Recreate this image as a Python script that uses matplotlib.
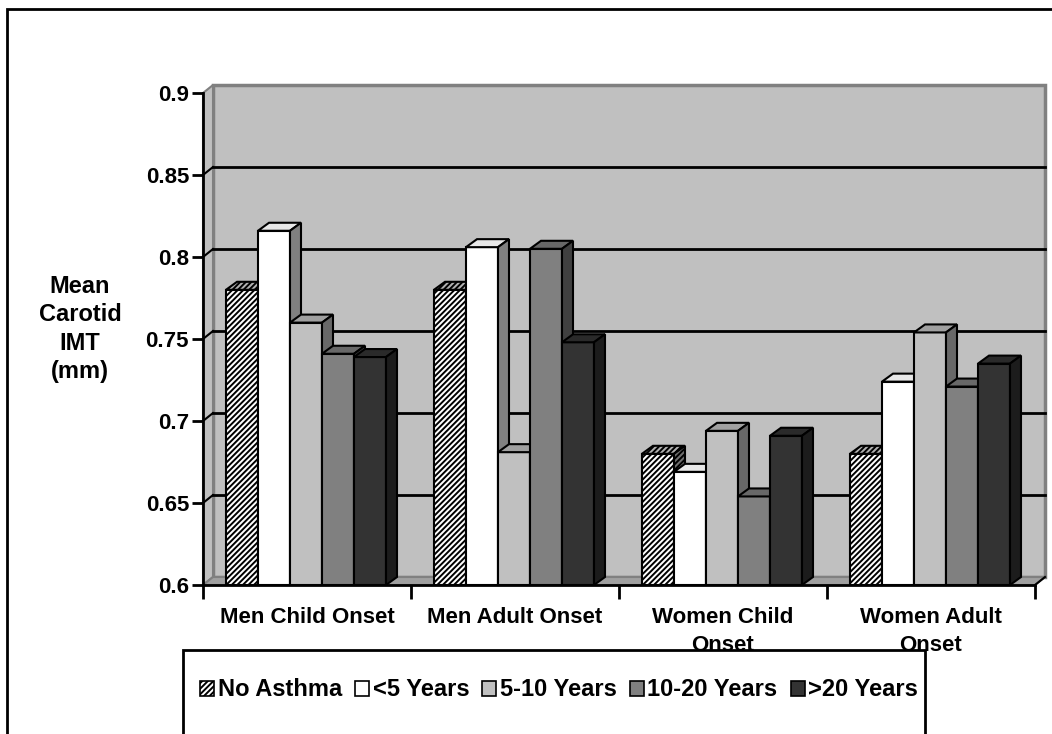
import numpy as np
import matplotlib

matplotlib.use('agg')
import matplotlib.pyplot as plt
from matplotlib.patches import Polygon, Rectangle, Patch

plt.rcParams['font.family'] = ['Liberation Sans', 'DejaVu Sans']
plt.rcParams['hatch.linewidth'] = 1.4

categories = ['Men Child Onset', 'Men Adult Onset', 'Women Child\nOnset', 'Women Adult\nOnset']
series = ['No Asthma', '<5 Years', '5-10 Years', '10-20 Years', '>20 Years']
no_asthma = [0.780, 0.780, 0.680, 0.680]
under_5 = [0.816, 0.806, 0.669, 0.724]
yrs_5_10 = [0.760, 0.681, 0.694, 0.754]
yrs_10_20 = [0.741, 0.805, 0.654, 0.721]
over_20 = [0.739, 0.748, 0.691, 0.735]
yticks = [0.6, 0.65, 0.7, 0.75, 0.8, 0.85, 0.9]
ytick_labels = ['0.6', '0.65', '0.7', '0.75', '0.8', '0.85', '0.9']

values = [no_asthma, under_5, yrs_5_10, yrs_10_20, over_20]
# front, top, side colours and hatch of each series
faces = [('white', '#b0b0b0', '#707070', '//////'),
         ('white', '#e8e8e8', '#808080', None),
         ('#c0c0c0', '#a0a0a0', '#686868', None),
         ('#808080', '#686868', '#404040', None),
         ('#333333', '#2a2a2a', '#1c1c1c', None)]

W, H = 1052, 734
fig = plt.figure(figsize=(W / 100, H / 100), dpi=100)
ax = fig.add_axes([203 / W, 149 / H, 832 / W, 492 / H])
ax.set_xlim(0, 4)
ax.set_ylim(0.6, 0.9)
ax.set_facecolor('none')

# pixel sizes in data units
px_x = 4 / 832
px_y = 0.3 / 492
wall_dx, wall_dy = 10 * px_x, 8 * px_y
bar_dx, bar_dy = 11 * px_x, 8 * px_y
bar_w = 32 * px_x
group_off = 23 * px_x
y0 = yticks[0]
y1 = yticks[-1]

# back wall, side wall and floor
ax.add_patch(Rectangle((wall_dx, y0 + wall_dy), 4, y1 - y0, fc='#c0c0c0', ec='#808080',
                       lw=2.5, zorder=0, clip_on=False))
ax.add_patch(Polygon([(0, y0), (wall_dx, y0 + wall_dy), (wall_dx, y1 + wall_dy), (0, y1)],
                     fc='#c0c0c0', ec='#808080', lw=1.5, zorder=0.2, clip_on=False))
ax.add_patch(Polygon([(0, y0), (4, y0), (4 + wall_dx, y0 + wall_dy), (wall_dx, y0 + wall_dy)],
                     fc='#a0a0a0', ec='#808080', lw=1.5, zorder=0.2, clip_on=False))
ax.plot([4, 4 + wall_dx], [y0, y0 + wall_dy], color='black', lw=1.5, zorder=0.3, clip_on=False)
for v in yticks[1:-1]:
    ax.plot([wall_dx, 4 + wall_dx], [v + wall_dy] * 2, color='black', lw=2, zorder=0.5, clip_on=False)
    ax.plot([0, wall_dx], [v, v + wall_dy], color='black', lw=1.5, zorder=0.5, clip_on=False)

# 3d-looking columns
for j, (vals, (front, top, side, hatch)) in enumerate(zip(values, faces)):
    xs = np.arange(len(categories)) + group_off + j * bar_w
    z = 2 + j
    ax.bar(xs, np.array(vals) - y0, bottom=y0, width=bar_w, align='edge', color=front,
           edgecolor='black', lw=1.5, hatch=hatch, zorder=z)
    for x, v in zip(xs, vals):
        ax.add_patch(Polygon([(x, v), (x + bar_w, v), (x + bar_w + bar_dx, v + bar_dy), (x + bar_dx, v + bar_dy)],
                             fc=top, ec='black', lw=1.5, hatch=hatch, zorder=z + 0.1, clip_on=False))
        ax.add_patch(Polygon([(x + bar_w, y0), (x + bar_w + bar_dx, y0 + bar_dy),
                              (x + bar_w + bar_dx, v + bar_dy), (x + bar_w, v)],
                             fc=side, ec='black', lw=1.5, hatch=hatch, zorder=z + 0.2, clip_on=False))

ax.spines[['top', 'right']].set_visible(False)
ax.spines['left'].set_linewidth(2)
ax.spines['bottom'].set_linewidth(2)
ax.spines['left'].set_zorder(10)
ax.spines['bottom'].set_zorder(10)

ax.set_yticks(yticks)
ax.set_yticklabels(ytick_labels, fontsize=16, fontweight='bold')
ax.tick_params(axis='y', length=8, width=2, pad=2)

ax.set_xticks(range(5))
ax.set_xticklabels([])
ax.tick_params(axis='x', which='major', length=10, width=2)
ax.set_xticks(np.arange(4) + 0.5, minor=True)
ax.set_xticklabels(categories, minor=True, fontsize=16, fontweight='bold', linespacing=1.45)
ax.tick_params(axis='x', which='minor', length=0, pad=16)

fig.text(80 / W, 1 - 329 / H, 'Mean\nCarotid\nIMT\n(mm)', ha='center', va='center',
         multialignment='center', fontsize=17, fontweight='bold', linespacing=1.3)

# legend box and entries
fig.add_artist(Rectangle((183 / W, -0.05), (925 - 183) / W, (734 - 650) / H + 0.05,
                         transform=fig.transFigure, fc='white', ec='black', lw=2, zorder=4))
handles = [Patch(fc=f[0], ec='black', lw=1.2, hatch=f[3]) for f in faces]
fig.legend(handles, series, loc='center', bbox_to_anchor=(559 / W, 1 - 690 / H), ncol=5,
           frameon=False, prop=dict(weight='bold', size=17), handlelength=0.6, handleheight=0.6,
           handletextpad=0.15, columnspacing=0.55, borderaxespad=0, borderpad=0)

# outer chart border
fig.add_artist(Rectangle((7 / W, -0.05), 1.1, (734 - 9) / H + 0.05, transform=fig.transFigure,
                         fill=False, ec='black', lw=2, zorder=6))

fig.savefig('out.png', dpi=100)
